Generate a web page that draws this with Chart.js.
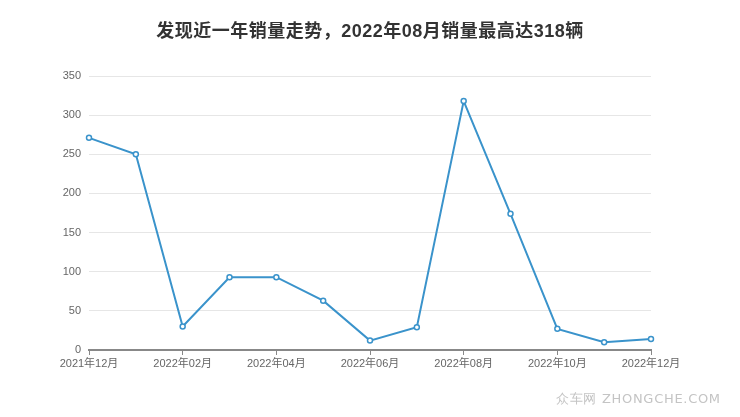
<!DOCTYPE html>
<html>
<head>
<meta charset="utf-8">
<script src="https://cdn.jsdelivr.net/npm/chart.js@4"></script>
<style>
  html, body { margin: 0; padding: 0; background: #fff; }
  #wrap { position: relative; width: 740px; height: 417px; }
  #mark { position: absolute; left: 556px; top: 390px; font: 13px "DejaVu Sans", sans-serif; color: #c4c4c4; letter-spacing: 0.7px; }
</style>
</head>
<body>
<div id="wrap">
  <canvas id="myChart" width="740" height="417"></canvas>
  <div id="mark">众车网 ZHONGCHE.COM</div>
</div>
<script>
const months = ["2021年12月", "2022年01月", "2022年02月", "2022年03月", "2022年04月", "2022年05月", "2022年06月",
  "2022年07月", "2022年08月", "2022年09月", "2022年10月", "2022年11月", "2022年12月"];
const sales = [271, 250, 30, 93, 93, 63, 12, 29, 318, 174, 27, 10, 14];
const yTicks = [0, 50, 100, 150, 200, 250, 300, 350];
const titleText = "发现近一年销量走势，2022年08月销量最高达318辆";

const lineColor = "#3a93cb";
const fontFamily = "'Liberation Sans', 'Noto Sans CJK SC', sans-serif";

// title centred on the whole canvas, not the padded box
const centerTitle = {
  id: "centerTitle",
  afterDraw(chart) {
    const ctx = chart.ctx;
    ctx.save();
    ctx.font = "bold 18px " + fontFamily;
    ctx.letterSpacing = "0.5px";
    ctx.fillStyle = "#333";
    ctx.textAlign = "center";
    ctx.textBaseline = "middle";
    ctx.fillText(titleText, chart.width / 2, 32);
    ctx.restore();
  },
};

new Chart(document.getElementById("myChart"), {
  type: "line",
  data: {
    labels: months,
    datasets: [{
      data: sales,
      borderColor: lineColor,
      borderWidth: 2,
      pointRadius: 2.5,
      pointBorderWidth: 1.5,
      pointBackgroundColor: "#fff",
      pointBorderColor: lineColor,
      tension: 0,
    }],
  },
  plugins: [centerTitle],
  options: {
    responsive: false,
    animation: false,
    layout: { padding: { left: 0, right: 89, top: 76, bottom: 47 } },
    plugins: {
      legend: { display: false },
      tooltip: { enabled: false },
      title: { display: false },
    },
    scales: {
      x: {
        offset: false,
        afterFit: (axis) => { axis.height = 20; },
        border: { display: true, color: "#888", width: 2 },
        grid: {
          drawOnChartArea: false,
          drawTicks: true,
          tickLength: 5,
          tickColor: (ctx) => (ctx.index % 2 === 0 ? "#888" : "rgba(0,0,0,0)"),
        },
        ticks: {
          autoSkip: false,
          maxRotation: 0,
          color: "#666",
          font: { size: 11, family: fontFamily },
          padding: 2,
          callback: (v, i) => (i % 2 === 0 ? months[i] : ""),
        },
      },
      y: {
        min: 0,
        max: 350,
        afterFit: (axis) => { axis.width = 89; },
        afterBuildTicks: (axis) => { axis.ticks = yTicks.map((v) => ({ value: v })); },
        border: { display: false },
        grid: { color: "#e6e6e6", drawTicks: false },
        ticks: {
          color: "#666",
          font: { size: 11, family: fontFamily },
          padding: 8,
        },
      },
    },
  },
});
</script>
</body>
</html>
